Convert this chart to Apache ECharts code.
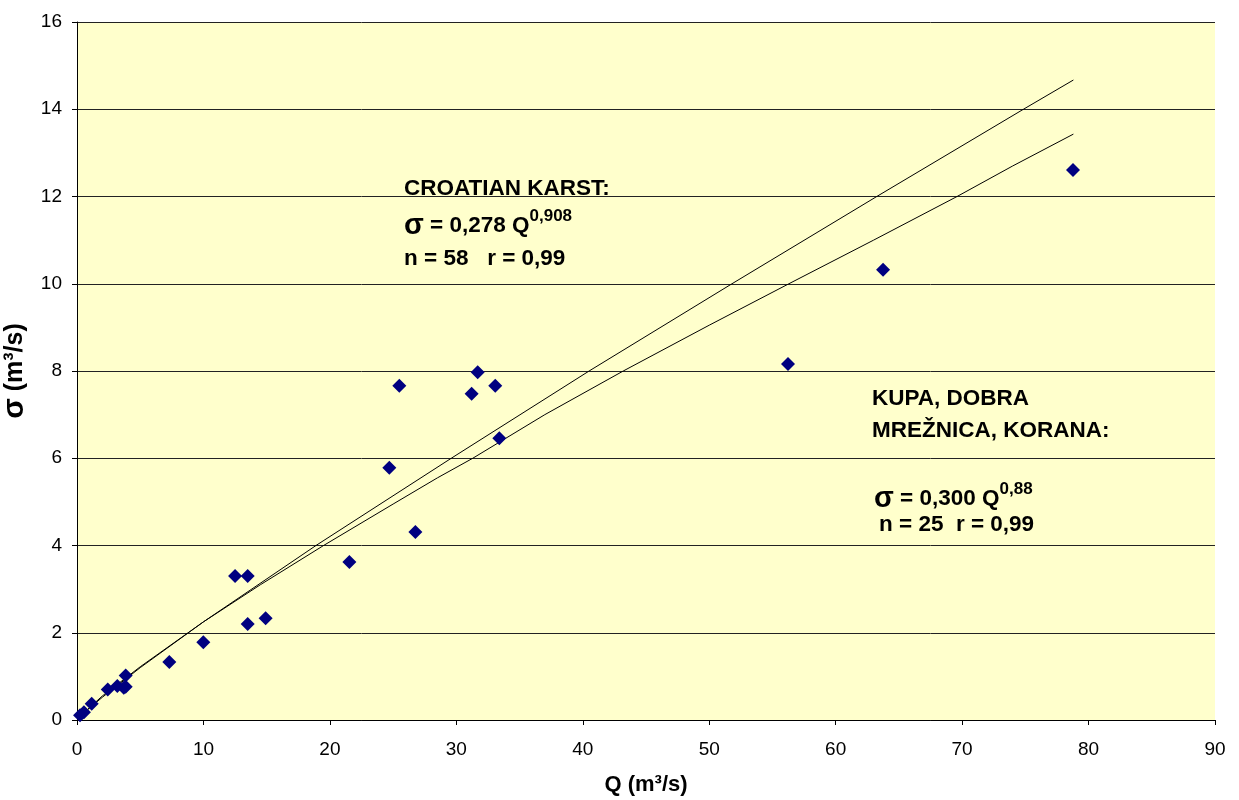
<!DOCTYPE html>
<html>
<head>
<meta charset="utf-8">
<script src="https://cdn.jsdelivr.net/npm/echarts@6/dist/echarts.min.js"></script>
<style>html,body{margin:0;padding:0;background:#fff}#c{width:1239px;height:800px}</style>
</head>
<body>
<div id="c"></div>
<script>
// Observed points: Q (m3/s) and sigma (m3/s)
const pointQ = [0.24, 0.55, 1.16, 2.43, 3.19, 3.70, 3.85, 3.85, 7.30, 9.99, 12.50, 13.50, 13.50, 14.92, 21.54, 24.70, 25.49, 26.76, 31.21, 31.69, 33.08, 33.40, 56.23, 63.75, 78.77];
const pointSigma = [0.11, 0.18, 0.37, 0.70, 0.78, 0.74, 0.76, 1.02, 1.33, 1.78, 3.30, 3.30, 2.20, 2.33, 3.62, 5.78, 7.66, 4.31, 7.48, 7.97, 7.66, 6.46, 8.16, 10.32, 12.61];

// Croatian karst curve
const karstQ = [0.45, 2, 5, 10, 18.9, 29.6, 40.5, 51.8, 63.25, 74.85, 78.8];
const karstSigma = [0.14, 0.52, 1.20, 2.25, 4.0, 6.0, 8.0, 10.0, 12.0, 14.0, 14.67];

// Kupa, Dobra, Mreznica, Korana curve
const kupaQ = [0.45, 2, 5, 10, 14.5, 19.5, 25, 28.5, 31.3, 37, 43.2, 50, 56.3, 63, 69.6, 74, 78.8];
const kupaSigma = [0.14, 0.55, 1.22, 2.25, 3.1, 4.0, 4.95, 5.55, 6.0, 7.0, 8.0, 9.05, 10.0, 11.0, 12.0, 12.7, 13.43];

const xTicks = [0, 10, 20, 30, 40, 50, 60, 70, 80, 90];
const yTicks = [0, 2, 4, 6, 8, 10, 12, 14, 16];

const zip = (a, b) => a.map((v, i) => [v, b[i]]);
const FONT = '"Liberation Sans", Arial, sans-serif';

const eqRich = {
  s: {fontFamily: FONT, fontSize: 29, fontWeight: 'bold', color: '#000', lineHeight: 36},
  t: {fontFamily: FONT, fontSize: 22.5, fontWeight: 'bold', color: '#000', lineHeight: 36},
  p: {fontFamily: FONT, fontSize: 17, fontWeight: 'bold', color: '#000', lineHeight: 14, verticalAlign: 'top'}
};
const textStyle = (t) => ({text: t, fontFamily: FONT, fontSize: 22.5, fontWeight: 'bold', fill: '#000'});

const chart = echarts.init(document.getElementById('c'), null, {renderer: 'canvas'});
chart.setOption({
  animation: false,
  backgroundColor: '#ffffff',
  grid: {left: 77, right: 24, top: 22, bottom: 80, containLabel: false, outerBoundsMode: 'none',
         show: true, backgroundColor: '#FFFFCC', borderWidth: 0},
  xAxis: {
    type: 'value', min: xTicks[0], max: xTicks[xTicks.length - 1], interval: 10,
    name: 'Q (m³/s)', nameLocation: 'middle', nameGap: 54,
    nameTextStyle: {fontFamily: FONT, fontSize: 22, fontWeight: 'bold', color: '#000'},
    axisLine: {show: true, lineStyle: {color: '#000', width: 1}},
    axisTick: {show: true, length: 5, lineStyle: {color: '#000'}},
    axisLabel: {fontFamily: FONT, fontSize: 19, color: '#000', margin: 20},
    splitLine: {show: false}
  },
  yAxis: {
    type: 'value', min: yTicks[0], max: yTicks[yTicks.length - 1], interval: 2,
    name: '{s|σ}{t| (m³/s)}', nameLocation: 'middle', nameGap: 42, nameRotate: 90,
    nameTextStyle: {rich: {
      s: {fontFamily: FONT, fontSize: 30, fontWeight: 'bold', color: '#000'},
      t: {fontFamily: FONT, fontSize: 25, fontWeight: 'bold', color: '#000'}
    }},
    axisLine: {show: true, lineStyle: {color: '#000', width: 1}},
    axisTick: {show: true, length: 5, lineStyle: {color: '#000'}},
    axisLabel: {fontFamily: FONT, fontSize: 19, color: '#000', margin: 15},
    splitLine: {show: true, lineStyle: {color: '#222', width: 1}}
  },
  series: [
    {type: 'line', data: zip(karstQ, karstSigma), showSymbol: false, symbol: 'none',
     lineStyle: {color: '#000', width: 1}, z: 3},
    {type: 'line', data: zip(kupaQ, kupaSigma), showSymbol: false, symbol: 'none',
     lineStyle: {color: '#000', width: 1}, z: 3},
    {type: 'scatter', data: zip(pointQ, pointSigma), symbol: 'diamond', symbolSize: 14,
     itemStyle: {color: '#000080', opacity: 1}, z: 5}
  ],
  graphic: [
    {type: 'text', left: 404, top: 177, style: textStyle('CROATIAN KARST:')},
    {type: 'text', left: 404, top: 208, style: {text: '{s|σ}{t| = 0,278 Q}{p|0,908}', rich: eqRich}},
    {type: 'text', left: 404, top: 247, style: textStyle('n = 58   r = 0,99')},

    {type: 'text', left: 872, top: 387, style: textStyle('KUPA, DOBRA')},
    {type: 'text', left: 872, top: 419, style: textStyle('MREŽNICA, KORANA:')},
    {type: 'text', left: 874, top: 481, style: {text: '{s|σ}{t| = 0,300 Q}{p|0,88}', rich: eqRich}},
    {type: 'text', left: 879, top: 513, style: textStyle('n = 25  r = 0,99')}
  ]
});
</script>
</body>
</html>
